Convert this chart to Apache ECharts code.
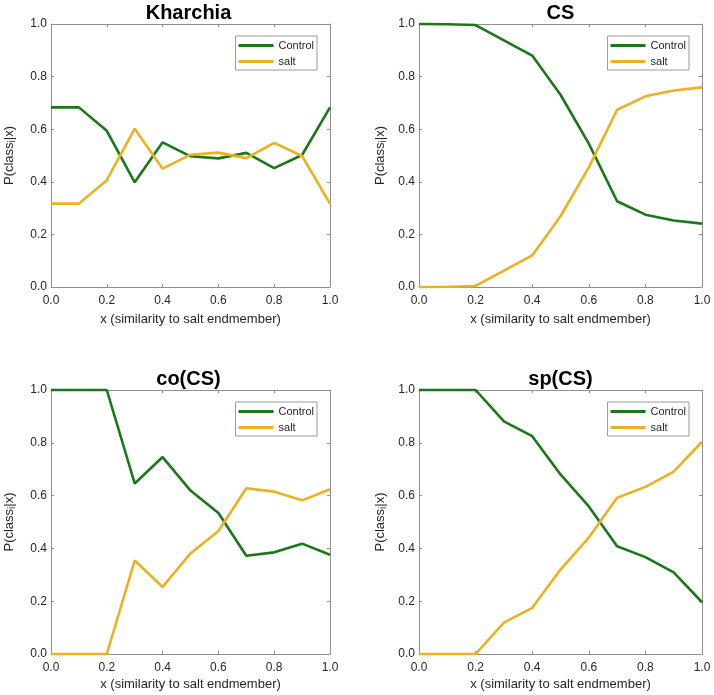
<!DOCTYPE html>
<html>
<head>
<meta charset="utf-8">
<script src="https://cdn.jsdelivr.net/npm/echarts@6/dist/echarts.min.js"></script>
<style>
html,body{margin:0;padding:0;background:#fff;}
#main{width:714px;height:695px;}
</style>
</head>
<body>
<div id="main"></div>
<script>
const xValues = [0, 0.1, 0.2, 0.3, 0.4, 0.5, 0.6, 0.7, 0.8, 0.9, 1.0];
const panelTitles = ['Kharchia', 'CS', 'co(CS)', 'sp(CS)'];
const seriesNames = ['Control', 'salt'];
const kharchiaControl = [0.683, 0.683, 0.594, 0.398, 0.550, 0.497, 0.489, 0.510, 0.452, 0.502, 0.683];
const kharchiaSalt    = [0.317, 0.317, 0.406, 0.602, 0.450, 0.503, 0.511, 0.490, 0.548, 0.498, 0.317];
const csControl       = [1.000, 0.999, 0.996, 0.938, 0.880, 0.731, 0.545, 0.326, 0.275, 0.253, 0.241];
const csSalt          = [0.000, 0.001, 0.004, 0.062, 0.120, 0.269, 0.455, 0.674, 0.725, 0.747, 0.759];
const cocsControl     = [1.000, 1.000, 1.000, 0.646, 0.746, 0.619, 0.534, 0.372, 0.385, 0.418, 0.376];
const cocsSalt        = [0.000, 0.000, 0.000, 0.354, 0.254, 0.381, 0.466, 0.628, 0.615, 0.582, 0.624];
const spcsControl     = [1.000, 1.000, 1.000, 0.881, 0.825, 0.680, 0.559, 0.408, 0.367, 0.309, 0.196];
const spcsSalt        = [0.000, 0.000, 0.000, 0.119, 0.175, 0.320, 0.441, 0.592, 0.633, 0.691, 0.804];
const axisMin = 0, axisMax = 1, axisInterval = 0.2;
const xAxisTitle = 'x (similarity to salt endmember)';

const panelData = [
  [kharchiaControl, kharchiaSalt],
  [csControl, csSalt],
  [cocsControl, cocsSalt],
  [spcsControl, spcsSalt]
];

const FONT = '"Liberation Sans", Arial, Helvetica, sans-serif';
const AXIS_COLOR = '#8f8f8f';
const TEXT_COLOR = '#262626';
const COLORS = ['#1a781a', '#EDB120'];

const grids = [
  {left: 47, top: 24, width: 283, height: 263},
  {left: 419, top: 24, width: 283, height: 263},
  {left: 47, top: 390, width: 283, height: 264},
  {left: 419, top: 390, width: 283, height: 264}
];
const yNameGaps = [34, 31, 34, 31];
const xNameGaps = [26, 26, 24, 24];

const option = {
  animation: false,
  backgroundColor: '#fff',
  textStyle: {fontFamily: FONT},
  title: [], grid: [], xAxis: [], yAxis: [], legend: [], series: []
};

grids.forEach((g, i) => {
  option.grid.push({left: g.left, top: g.top, width: g.width, height: g.height, containLabel: false});
  option.title.push({
    text: panelTitles[i],
    left: g.left + g.width / 2,
    top: g.top - 21,
    padding: 0,
    textAlign: 'center',
    textStyle: {fontFamily: FONT, fontSize: 20, fontWeight: 'bold', color: '#000', lineHeight: 20}
  });
  const lineStyleAxis = {show: true, onZero: false, lineStyle: {color: AXIS_COLOR, width: 1}};
  const tick = {show: true, inside: true, length: 3, lineStyle: {color: AXIS_COLOR}};
  option.xAxis.push({
    type: 'value', gridIndex: i, position: 'bottom',
    min: axisMin, max: axisMax, interval: axisInterval,
    axisLine: lineStyleAxis, axisTick: tick, splitLine: {show: false},
    axisLabel: {color: TEXT_COLOR, fontSize: 12, fontFamily: FONT, margin: 8,
      formatter: v => v.toFixed(1)},
    name: xAxisTitle, nameLocation: 'middle', nameGap: xNameGaps[i],
    nameTextStyle: {color: TEXT_COLOR, fontSize: 13, fontFamily: FONT}
  });
  option.xAxis.push({
    type: 'value', gridIndex: i, position: 'top',
    min: axisMin, max: axisMax, interval: axisInterval,
    axisLine: lineStyleAxis, axisTick: tick, splitLine: {show: false},
    axisLabel: {show: false}
  });
  option.yAxis.push({
    type: 'value', gridIndex: i, position: 'left',
    min: axisMin, max: axisMax, interval: axisInterval,
    axisLine: lineStyleAxis, axisTick: tick, splitLine: {show: false},
    axisLabel: {color: TEXT_COLOR, fontSize: 12, fontFamily: FONT, margin: 4,
      formatter: v => v.toFixed(1)},
    name: 'P(class{sub|i}|x)', nameLocation: 'middle', nameGap: yNameGaps[i],
    nameTextStyle: {color: TEXT_COLOR, fontSize: 13, fontFamily: FONT, lineHeight: 16,
      rich: {sub: {fontSize: 10, fontFamily: FONT, color: TEXT_COLOR, lineHeight: 7, verticalAlign: 'bottom'}}}
  });
  option.yAxis.push({
    type: 'value', gridIndex: i, position: 'right',
    min: axisMin, max: axisMax, interval: axisInterval,
    axisLine: lineStyleAxis, axisTick: tick, splitLine: {show: false},
    axisLabel: {show: false}
  });
  option.legend.push({
    data: seriesNames,
    orient: 'vertical',
    right: 714 - (g.left + g.width - 13),
    top: g.top + 12,
    icon: 'rect',
    itemWidth: 35, itemHeight: 3, itemGap: 3,
    padding: [3, 3, 2, 3],
    borderColor: '#9a9a9a', borderWidth: 1, backgroundColor: '#fff',
    selectedMode: false,
    textStyle: {fontSize: 11, fontFamily: FONT, color: TEXT_COLOR, lineHeight: 13}
  });
  seriesNames.forEach((name, k) => {
    option.series.push({
      type: 'line', name: name,
      xAxisIndex: i * 2, yAxisIndex: i * 2,
      data: xValues.map((x, j) => [x, panelData[i][k][j]]),
      showSymbol: false, symbol: 'none', clip: false,
      color: COLORS[k],
      lineStyle: {color: COLORS[k], width: 2.6},
      z: 3 + k
    });
  });
});

const chart = echarts.init(document.getElementById('main'), null, {renderer: 'canvas'});
chart.setOption(option);
</script>
</body>
</html>
